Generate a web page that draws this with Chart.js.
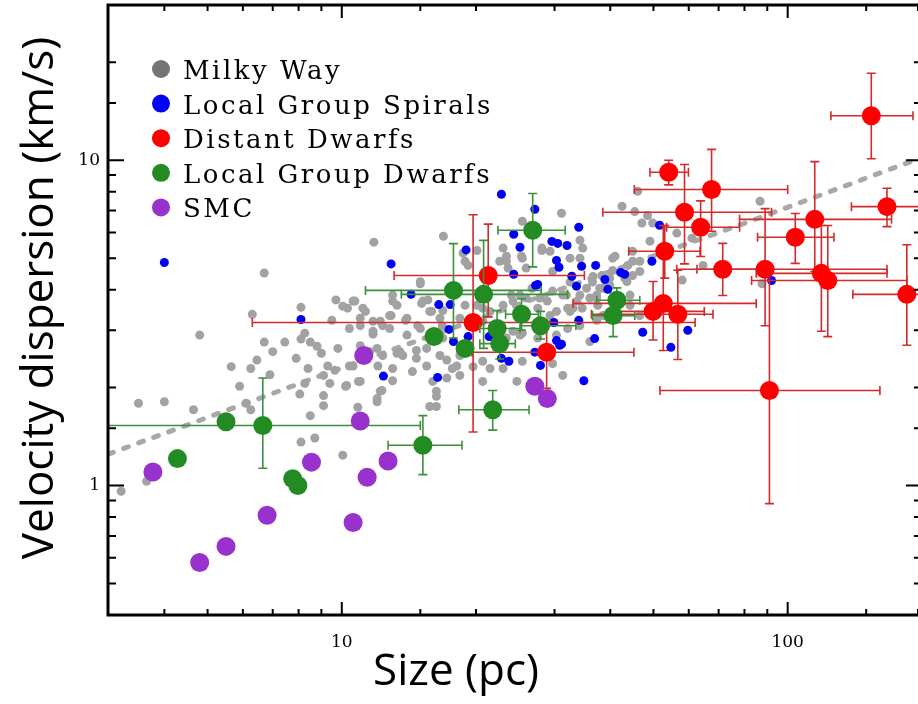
<!DOCTYPE html>
<html>
<head>
<meta charset="utf-8">
<script src="https://cdn.jsdelivr.net/npm/chart.js@4.4.0/dist/chart.umd.min.js"></script>
<style>
    html, body { margin: 0; padding: 0; background: #fff; }
</style>
</head>
<body>
<canvas id="SizeChart" width="918" height="704"></canvas>
<script>
// [size pc, velocity dispersion km/s]
var milkyWay = [
    [6.7, 4.5], [6.3, 3.36], [8.1, 3.53], [9.7, 3.72], [10.05, 3.56], [10.3, 3.51], [10.7, 3.69], [9.5, 3.22], [4.8, 2.9], [6.7, 2.76],
    [7.45, 2.76], [7.0, 2.58], [8.26, 2.94], [8.1, 2.82], [8.5, 2.76], [8.8, 2.68], [9.0, 2.55], [9.8, 2.64], [7.9, 2.46], [5.65, 2.32],
    [6.25, 2.29], [6.45, 2.43], [8.4, 2.29], [9.3, 2.33], [9.65, 2.26], [10.4, 2.33], [6.9, 2.19], [9.1, 2.18], [8.26, 2.06], [9.4, 2.06],
    [10.2, 2.02], [5.9, 2.02], [8.05, 1.91], [9.1, 1.89], [9.1, 1.76], [3.5, 1.79], [4.0, 1.81], [4.65, 1.71], [6.1, 1.79], [6.25, 1.71],
    [8.5, 1.64], [8.1, 1.36], [8.7, 1.40], [10.05, 1.24], [3.2, 0.96], [3.65, 1.03], [10.9, 2.09], [13.0, 2.10], [12.3, 1.96], [12.0, 1.81],
    [11.8, 5.6], [16.9, 5.84], [18.7, 5.18], [20.1, 5.28], [15.0, 4.17], [11.3, 3.43], [13.3, 3.58], [15.1, 3.63], [13.9, 3.22], [14.8, 3.10],
    [15.9, 3.43], [16.8, 3.10], [12.35, 3.10], [11.75, 2.92], [11.0, 3.10], [12.0, 2.64], [13.3, 2.55], [13.7, 2.51], [14.7, 2.60], [13.0, 2.29],
    [15.5, 2.33], [17.2, 2.43], [17.7, 2.29], [20.7, 2.41], [16.3, 1.88], [15.75, 1.75], [12.0, 1.85], [11.0, 2.09], [10.6, 2.33], [23.6, 4.66],
    [23.0, 5.37], [25.4, 5.0], [28.1, 5.37], [31.1, 6.87], [25.4, 6.49], [22.6, 4.89], [24.0, 3.85], [25.1, 3.85], [26.7, 4.04], [27.5, 3.51],
    [28.9, 3.69], [29.3, 3.33], [31.3, 3.85], [32.1, 3.51], [33.7, 3.69], [34.6, 3.51], [36.0, 3.77], [37.5, 3.58], [38.5, 3.33], [37.3, 3.22],
    [34.2, 3.10], [32.1, 3.04], [30.3, 2.90], [25.4, 2.94], [23.4, 2.84], [20.7, 3.20], [21.5, 3.43], [18.4, 3.27], [21.5, 2.29], [23.0, 2.29],
    [25.4, 2.41], [20.7, 2.09], [16.0, 2.09], [24.7, 2.09], [32.5, 5.0], [34.7, 5.37], [34.2, 5.68], [40.5, 5.0], [44.9, 5.25], [46.6, 4.89],
    [44.9, 4.42], [39.9, 4.12], [44.3, 3.85], [46.6, 3.33], [13.0, 3.69], [12.9, 3.33], [15.6, 3.72], [16.85, 3.45], [11.75, 3.20], [14.0, 3.27],
    [11.15, 3.51], [42.5, 7.22], [45.4, 6.95], [48.5, 6.76], [47.1, 6.41], [49.8, 6.41], [46.1, 8.03], [56.4, 5.97], [61.0, 5.76], [49.1, 5.64],
    [41.0, 5.07], [43.8, 4.75], [43.1, 4.34], [40.5, 4.58], [38.3, 4.42], [36.5, 4.22], [35.4, 4.04], [37.3, 3.85], [38.5, 4.04], [32.5, 3.43],
    [44.3, 3.58], [64.6, 4.75], [58.0, 4.28], [87.6, 4.17], [86.7, 7.48], [10.86, 1.74], [16.3, 1.75], [19.2, 4.75], [13.0, 3.85], [19.7, 2.32],
    [18.4, 2.18], [27.5, 2.84], [18.9, 3.58], [20.1, 3.58], [18.4, 2.51], [36.0, 2.77], [29.7, 2.37], [31.3, 2.18], [23.4, 5.07],
    [23.4, 4.89], [25.3, 5.07], [28.1, 5.28], [29.3, 5.25], [34.2, 5.0], [36.6, 4.39], [37.9, 4.04], [32.5, 4.22], [29.7, 4.55], [25.9, 4.66],
    [18.9, 4.89], [15.0, 4.23], [15.2, 3.69], [15.75, 3.43], [12.8, 3.33], [12.2, 3.20], [10.6, 3.69], [11.0, 3.27], [10.4, 3.04], [11.75, 2.98],
    [12.8, 3.04], [14.0, 2.90], [15.0, 3.04], [16.6, 3.27], [16.85, 2.84], [13.5, 2.58], [12.35, 2.51], [11.55, 2.58], [11.0, 2.69], [14.7, 2.46],
    [14.4, 2.24], [12.05, 2.33], [15.5, 2.64], [16.6, 2.51], [23.0, 3.58], [24.2, 3.69], [25.9, 3.77], [27.8, 3.77], [29.7, 3.96], [31.9, 3.85],
    [34.2, 3.85], [33.0, 3.51], [30.3, 3.43], [24.2, 2.98], [25.1, 2.90], [20.7, 3.51], [18.1, 2.33], [17.2, 2.14], [10.25, 2.03], [12.2, 1.95],
    [16.3, 1.95], [44.9, 4.89], [46.6, 4.55], [43.6, 4.24], [39.9, 4.34], [37.3, 3.77]
];

var lgSpirals = [
    [4.0, 4.85], [8.1, 3.24], [19.0, 5.3], [12.9, 4.8], [14.3, 3.87], [16.5, 3.6], [17.5, 3.6], [22.8, 7.86], [27.1, 7.07], [24.3, 5.92],
    [25.1, 5.4], [29.6, 5.63], [30.5, 5.55], [32.0, 5.47], [34.0, 6.22], [30.3, 4.92], [30.7, 4.69], [34.5, 4.72], [37.1, 4.75], [42.2, 4.52],
    [43.1, 4.46], [38.9, 4.30], [33.6, 4.10], [32.8, 4.40], [27.5, 4.15], [27.2, 4.12], [24.3, 4.46], [17.4, 3.02], [17.8, 2.77], [19.2, 2.87],
    [21.4, 2.87], [22.8, 2.46], [23.7, 2.41], [27.1, 2.57], [27.9, 2.34], [30.3, 2.79], [31.1, 2.72], [29.9, 3.17], [34.0, 3.22], [36.9, 2.83],
    [47.3, 2.96], [34.9, 2.10], [12.4, 2.17], [16.4, 2.15], [51.6, 6.31], [49.6, 4.89], [39.5, 4.01], [59.7, 3.0], [54.7, 2.66], [30.8, 2.70],
    [92, 4.27]
];

// [size, sigma, size lo, size hi, sigma lo, sigma hi]
var distantDwarfs = [
    [154, 13.7, 125, 191, 10.1, 18.5],
    [54.1, 9.18, 49.1, 59.9, 8.4, 10.0],
    [67.5, 8.13, 45.3, 100, 6.05, 10.8],
    [58.7, 6.92, 38.5, 92, 4.8, 9.7],
    [63.8, 6.22, 53.5, 78, 5.06, 7.5],
    [53, 5.25, 44, 63.6, 4.34, 6.3],
    [71.5, 4.62, 62.6, 89.5, 3.84, 5.55],
    [89, 4.62, 56.4, 167, 3.1, 7.1],
    [91, 1.96, 51.7, 161, 0.88, 4.66],
    [115, 6.58, 78, 171, 4.55, 9.9],
    [104, 5.8, 85.6, 127, 4.82, 6.86],
    [167, 7.2, 139, 230, 6.25, 8.2],
    [119, 4.49, 85, 167, 2.98, 6.3],
    [123, 4.27, 83, 185, 2.87, 6.3],
    [185, 3.87, 140, 260, 2.7, 5.5],
    [56.7, 3.36, 36.3, 68, 2.44, 4.59],
    [52.6, 3.63, 33, 85, 2.6, 6.3],
    [49.9, 3.43, 40, 65, 2.8, 4.24],
    [21.3, 4.42, 13.1, 35, 3.3, 6.36],
    [19.7, 3.17, 6.3, 62, 1.46, 6.8],
    [28.8, 2.57, 19.6, 45.2, 1.99, 3.2]
];

var lgDwarfs = [
    [4.28, 1.21],
    [5.5, 1.57],
    [6.65, 1.53, 2.0, 15.0, 1.13, 2.14],
    [7.76, 1.05],
    [7.97, 1.0],
    [15.2, 1.33, 12.7, 18.6, 1.08, 1.64],
    [21.8, 1.71, 18.3, 26.3, 1.48, 1.96],
    [26.8, 6.09, 22.4, 31.7, 4.7, 7.9],
    [17.8, 3.98, 11.3, 28, 2.84, 5.54],
    [20.8, 3.87, 13.6, 32.1, 2.64, 5.67],
    [16.1, 2.87],
    [18.9, 2.64],
    [22.3, 3.04, 20.4, 25.1, 2.6, 3.45],
    [22.6, 2.73, 20.4, 24.5, 2.45, 3.0],
    [25.3, 3.36, 23.3, 27.6, 3.0, 3.75],
    [27.9, 3.10, 25.2, 33.5, 2.82, 3.43],
    [41.4, 3.71, 37.3, 46.6, 3.45, 4.05],
    [40.6, 3.33, 36.5, 45.4, 2.87, 3.7]
];

var smc = [
    [3.77, 1.10], [4.8, 0.58], [5.5, 0.65], [6.8, 0.81], [8.55, 1.18], [10.6, 0.77],
    [11.0, 1.58], [11.2, 2.51], [11.4, 1.06], [12.7, 1.19], [27.1, 2.02], [28.9, 1.85]
];

// dashed trend line
var trendSize = [3, 10, 80, 200];
var trendSigma = [1.25, 2.3, 6.4, 10.2];

// visible axis ranges (the right edge of the original plot is cropped, frame sits at 200)
var sizeRange = [2.99, 196];
var sigmaRange = [0.4, 30];
var frameRightSize = 200;

var xTitle = 'Size (pc)';
var yTitle = 'Velocity dispersion (km/s)';

function toPoints(rows) {
    return rows.map(function (r) { return { x: r[0], y: r[1] }; });
}

function isDecade(v) {
    var l = Math.log10(v);
    return Math.abs(l - Math.round(l)) < 1e-6;
}

// error bars, drawn just before the dataset's own points
var errorBars = {
    id: 'errorBars',
    beforeDatasetDraw: function (chart, args) {
        var ds = chart.data.datasets[args.index];
        if (!ds.errors) return;
        var xs = chart.scales.x, ys = chart.scales.y, ctx = chart.ctx, a = chart.chartArea;
        var cap = 4.5;
        ctx.save();
        ctx.beginPath();
        ctx.rect(a.left, a.top, a.right - a.left, a.bottom - a.top);
        ctx.clip();
        ctx.strokeStyle = ds.errorColor;
        ctx.lineWidth = 1.6;
        ds.errors.forEach(function (e) {
            if (e.length < 6) return;
            var cx = xs.getPixelForValue(e[0]), cy = ys.getPixelForValue(e[1]);
            var x0 = xs.getPixelForValue(e[2]), x1 = xs.getPixelForValue(e[3]);
            var y0 = ys.getPixelForValue(e[4]), y1 = ys.getPixelForValue(e[5]);
            ctx.beginPath();
            ctx.moveTo(x0, cy); ctx.lineTo(x1, cy);
            ctx.moveTo(x0, cy - cap); ctx.lineTo(x0, cy + cap);
            ctx.moveTo(x1, cy - cap); ctx.lineTo(x1, cy + cap);
            ctx.moveTo(cx, y0); ctx.lineTo(cx, y1);
            ctx.moveTo(cx - cap, y0); ctx.lineTo(cx + cap, y0);
            ctx.moveTo(cx - cap, y1); ctx.lineTo(cx + cap, y1);
            ctx.stroke();
        });
        ctx.restore();
    }
};

// box frame with inward ticks on all four sides
var frameTicks = {
    id: 'frameTicks',
    afterDatasetsDraw: function (chart) {
        var ctx = chart.ctx, a = chart.chartArea;
        var xs = chart.scales.x, ys = chart.scales.y;
        var right = xs.getPixelForValue(frameRightSize);
        ctx.save();
        ctx.strokeStyle = '#000';
        ctx.lineWidth = 2;
        xs.ticks.forEach(function (t) {
            var px = xs.getPixelForValue(t.value);
            var len = isDecade(t.value) ? 13 : 6;
            ctx.beginPath();
            ctx.moveTo(px, a.bottom); ctx.lineTo(px, a.bottom - len);
            ctx.moveTo(px, a.top); ctx.lineTo(px, a.top + len);
            ctx.stroke();
        });
        ys.ticks.forEach(function (t) {
            var py = ys.getPixelForValue(t.value);
            var len = isDecade(t.value) ? 16 : 8;
            ctx.beginPath();
            ctx.moveTo(a.left, py); ctx.lineTo(a.left + len, py);
            ctx.moveTo(right, py); ctx.lineTo(right - len, py);
            ctx.stroke();
        });
        ctx.lineWidth = 3;
        ctx.strokeRect(a.left, a.top, right - a.left, a.bottom - a.top);
        ctx.restore();
    }
};

// legend inside the plot + axis titles
var labelsPlugin = {
    id: 'labelsPlugin',
    afterDraw: function (chart) {
        var ctx = chart.ctx, a = chart.chartArea;
        ctx.save();
        ctx.font = '26px "DejaVu Serif"';
        ctx.letterSpacing = '2.5px';
        ctx.textBaseline = 'alphabetic';
        var row = 0;
        chart.data.datasets.forEach(function (ds) {
            if (!ds.legendColor) return;
            var y = a.top + 64 + row * 34.6;
            ctx.fillStyle = ds.legendColor;
            ctx.beginPath();
            ctx.arc(a.left + 53, y, 9, 0, 2 * Math.PI);
            ctx.fill();
            ctx.fillStyle = '#000';
            ctx.fillText(ds.label, a.left + 75, y + 10);
            row++;
        });
        ctx.letterSpacing = '0px';
        ctx.font = '44px "Open Sans"';
        ctx.fillStyle = '#000';
        ctx.textAlign = 'center';
        ctx.textBaseline = 'middle';
        ctx.fillText(xTitle, 456, 672);
        ctx.translate(40, 298);
        ctx.rotate(-Math.PI / 2);
        ctx.fillText(yTitle, 0, 0);
        ctx.restore();
    }
};

var tickFont = { family: 'DejaVu Serif', size: 17 };

var ctx = document.getElementById('SizeChart').getContext('2d');
var sizeChart = new Chart(ctx, {
    type: 'scatter',
    data: {
        datasets: [{
            label: 'Milky Way',
            data: toPoints(milkyWay),
            pointRadius: 4.5,
            pointBorderWidth: 0,
            backgroundColor: '#a2a2a2',
            legendColor: '#747474',
            order: 5
        }, {
            label: 'Local Group Spirals',
            data: toPoints(lgSpirals),
            pointRadius: 4.5,
            pointBorderWidth: 0,
            backgroundColor: '#0000f5',
            legendColor: '#0000f5',
            order: 4
        }, {
            label: 'Distant Dwarfs',
            data: toPoints(distantDwarfs),
            errors: distantDwarfs,
            errorColor: '#d42a2a',
            pointRadius: 9.5,
            pointBorderWidth: 0,
            backgroundColor: '#ff0000',
            legendColor: '#ff0000',
            clip: false,
            order: 3
        }, {
            label: 'Local Group Dwarfs',
            data: toPoints(lgDwarfs),
            errors: lgDwarfs,
            errorColor: '#3d8f3d',
            pointRadius: 9.5,
            pointBorderWidth: 0,
            backgroundColor: '#228b22',
            legendColor: '#228b22',
            order: 2
        }, {
            label: 'SMC',
            data: toPoints(smc),
            pointRadius: 9.5,
            pointBorderWidth: 0,
            backgroundColor: '#9932cc',
            legendColor: '#9932cc',
            order: 1
        }, {
            type: 'line',
            label: 'trend',
            data: trendSize.map(function (s, i) { return { x: s, y: trendSigma[i] }; }),
            borderColor: '#a8a8a8',
            borderWidth: 5,
            borderDash: [5, 11],
            borderCapStyle: 'round',
            pointRadius: 0,
            fill: false,
            order: 6
        }]
    },
    options: {
        responsive: false,
        animation: false,
        layout: { autoPadding: false, padding: { top: 5, right: 0, bottom: 0, left: 0 } },
        plugins: {
            legend: { display: false },
            tooltip: { enabled: false }
        },
        scales: {
            x: {
                type: 'logarithmic',
                min: sizeRange[0],
                max: sizeRange[1],
                afterFit: function (s) {
                    s.height = 89;
                    s.paddingLeft = 0;
                    s.paddingRight = 0;
                },
                border: { display: false },
                grid: { drawOnChartArea: false, drawTicks: false },
                ticks: {
                    autoSkip: false,
                    maxRotation: 0,
                    padding: 17,
                    color: '#000',
                    font: tickFont,
                    callback: function (v) { return isDecade(v) ? String(v) : ''; }
                }
            },
            y: {
                type: 'logarithmic',
                min: sigmaRange[0],
                max: sigmaRange[1],
                afterFit: function (s) {
                    s.width = 108;
                    s.paddingTop = 0;
                    s.paddingBottom = 0;
                },
                border: { display: false },
                grid: { drawOnChartArea: false, drawTicks: false },
                ticks: {
                    autoSkip: false,
                    padding: 8,
                    color: '#000',
                    font: tickFont,
                    callback: function (v) { return isDecade(v) ? String(v) : ''; }
                }
            }
        }
    },
    plugins: [errorBars, frameTicks, labelsPlugin]
});
</script>
</body>
</html>
